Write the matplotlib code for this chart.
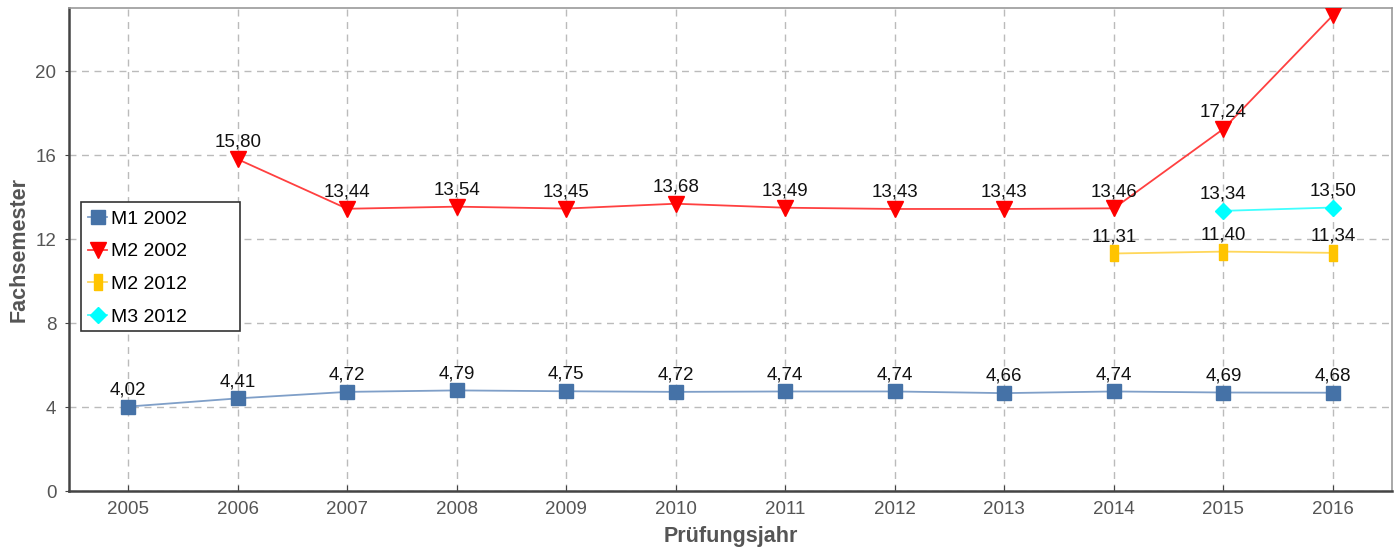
import matplotlib
matplotlib.use("Agg")
import matplotlib.pyplot as plt
from matplotlib.patches import Rectangle
import numpy as np

years = [2005, 2006, 2007, 2008, 2009, 2010, 2011, 2012, 2013, 2014, 2015, 2016]
m1_2002_years = years
m1_2002 = [4.02, 4.41, 4.72, 4.79, 4.75, 4.72, 4.74, 4.74, 4.66, 4.74, 4.69, 4.68]
m2_2002_years = years[1:]
m2_2002 = [15.80, 13.44, 13.54, 13.45, 13.68, 13.49, 13.43, 13.43, 13.46, 17.24, 22.65]
m2_2012_years = [2014, 2015, 2016]
m2_2012 = [11.31, 11.40, 11.34]
m3_2012_years = [2015, 2016]
m3_2012 = [13.34, 13.50]
yticks = [0, 4, 8, 12, 16, 20]

plt.rcParams['font.family'] = ['Liberation Sans', 'DejaVu Sans']

fig = plt.figure(figsize=(14, 5.51), dpi=100)
ax = fig.add_axes([69/1400, 60/551, (1392-69)/1400, (491-8)/551])

rect = [(-0.28, -0.5), (0.28, -0.5), (0.28, 0.5), (-0.28, 0.5), (-0.28, -0.5)]

series = [
    ("M1 2002", m1_2002_years, m1_2002, "#7f9fc8", "#4572A7", "s", 10.5),
    ("M2 2002", m2_2002_years, m2_2002, "#ff4040", "#ff0000", "v", 11.5),
    ("M2 2012", m2_2012_years, m2_2012, "#ffd75a", "#ffc400", rect, 11.5),
    ("M3 2012", m3_2012_years, m3_2012, "#40ffff", "#00ffff", "D", 8.5),
]

ymax = 23
for name, xs, ys, lc, mc, mk, ms in series:
    ax.plot(xs, ys, color=lc, lw=1.3, marker=mk, markersize=ms,
            markerfacecolor=mc, markeredgecolor=mc, label=name, zorder=3)
    for x, y in zip(xs, ys):
        if y > ymax - 1:
            continue  # label lies outside the plot area in the reference
        ax.annotate(f"{y:.2f}".replace(".", ","), (x, y), xytext=(0, 6),
                    textcoords="offset points", ha="center", va="bottom",
                    fontsize=13.5, color="#111111", zorder=4)

ax.set_xlim(2004.46, 2016.54)
ax.set_ylim(0, ymax)
ax.set_xticks(years)
ax.set_xticklabels([str(y) for y in years])
ax.set_yticks(yticks)
ax.grid(True, color="#bbbbbb", linestyle=(0, (5, 4)), lw=1.0, zorder=0)
ax.tick_params(axis="both", labelsize=13.5, labelcolor="#555555", color="#444444")
ax.tick_params(axis="x", direction="in", length=4, pad=7)
ax.tick_params(axis="y", direction="out", length=3, pad=6)

for s in ["left", "bottom"]:
    ax.spines[s].set_color("#444444")
    ax.spines[s].set_linewidth(1.8)
for s in ["top", "right"]:
    ax.spines[s].set_color("#999999")
    ax.spines[s].set_linewidth(1.2)

ax.set_xlabel("Prüfungsjahr", fontsize=15.5, fontweight="bold", color="#555555", labelpad=6)
ax.set_ylabel("Fachsemester", fontsize=15.5, fontweight="bold", color="#555555", labelpad=4)

leg = ax.legend(loc="upper left", bbox_to_anchor=(0.00998, 0.5934), fontsize=14,
                frameon=False, handlelength=1.0, handletextpad=0.2, borderpad=0.3,
                labelspacing=0.77, borderaxespad=0, markerscale=1.0)
leg.set_zorder(6)
ax.add_patch(Rectangle(((81-69)/1323, (491-331)/483), (240-81)/1323, (331-202)/483,
                       transform=ax.transAxes, facecolor="white", edgecolor="#333333",
                       lw=1.2, zorder=5))

fig.savefig("out.png", dpi=100)
